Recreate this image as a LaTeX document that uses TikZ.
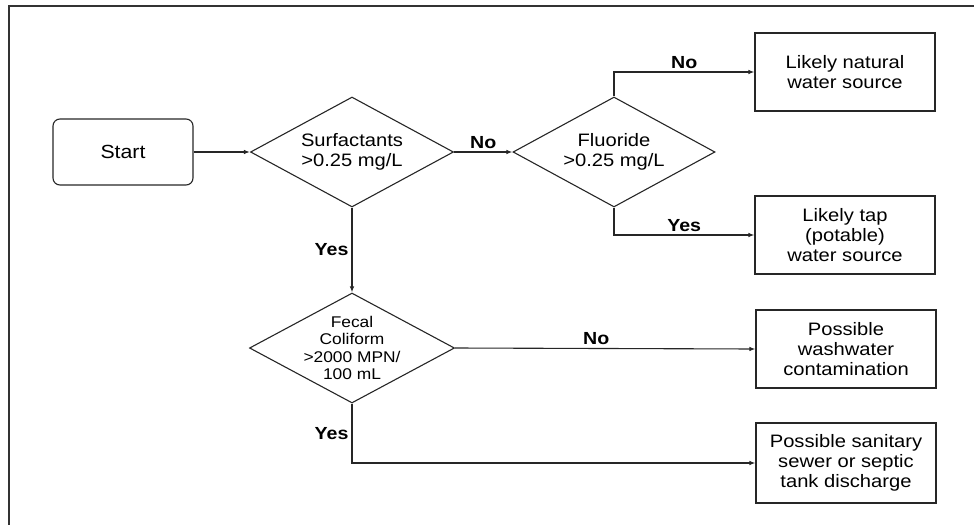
\documentclass[tikz,border=0pt]{standalone}
\usepackage{fontspec}
\setmainfont[FakeStretch=1.12]{Liberation Sans}
\usetikzlibrary{shapes.geometric,arrows.meta}

\tikzset{
    flowline/.style={draw=black!85, line width=1.1pt},
    flowarrow/.style={flowline, -{Latex[length=6pt,width=4.5pt]}},
    startbox/.style={draw=black!85, line width=1.1pt, rounded corners=7pt,
        minimum width=140pt, minimum height=66pt, inner sep=0pt},
    decision/.style={draw=black!85, line width=1.1pt, diamond, aspect=1.85,
        inner sep=-6pt, minimum width=203pt, minimum height=110pt, align=center,
        font=\fontsize{18}{20}\selectfont},
    resultbox/.style={draw=black!85, line width=1.1pt, minimum width=180pt,
        minimum height=78pt, inner sep=0pt, align=center,
        font=\fontsize{18}{20}\selectfont},
    answer/.style={font=\fontsize{17.5}{19}\selectfont\bfseries, inner sep=3pt}
}

\begin{document}
\begin{tikzpicture}[x=1pt, y=-1pt, font=\fontsize{18}{20}\selectfont]

        \useasboundingbox (0,0) rectangle (974,525);

        % Frame
        \draw[black!80, line width=2pt] (974,6) -- (9,6) -- (9,525);

        % Start and first test
        \node[startbox, font=\fontsize{19}{21}\selectfont] (start) at (123,152) {Start};
        \node[decision] (surf) at (352,152) {Surfactants\\>0.25 mg/L};

        % Fluoride test and its outcomes
        \node[decision, minimum width=202pt] (fluor) at (614,152) {Fluoride\\>0.25 mg/L};
        \node[resultbox] (natural) at (845,72) {Likely natural\\water source};
        \node[resultbox] (tap) at (845,235) {Likely tap\\(potable)\\water source};

        % Fecal coliform test and its outcomes
        \node[decision, minimum width=205pt, inner sep=-12pt,
              font=\fontsize{15.5}{17.5}\selectfont]
            (fecal) at (352,348) {Fecal\\Coliform\\>2000 MPN/\\100 mL};
        \node[resultbox] (wash) at (846,349) {Possible\\washwater\\contamination};
        \node[resultbox, minimum height=80pt] (sanit) at (846,463)
            {Possible sanitary\\sewer or septic\\tank discharge};

        % Connectors
        \draw[flowarrow] (start) -- (surf);
        \draw[flowarrow] (surf) -- node[answer, above] {No} (fluor);
        \draw[flowarrow] (fluor.north) |- node[answer, above, pos=0.75] {No} (natural.west);
        \draw[flowarrow] (fluor.south) |- node[answer, above, pos=0.75] {Yes} (tap.west);
        \draw[flowarrow] (surf.south) -- node[answer, left] {Yes} (fecal.north);
        \draw[flowarrow] (fecal.east) -- node[answer, above, pos=0.47] {No} (wash.west);
        \draw[flowarrow] (fecal.south) |- node[answer, left, pos=0.25] {Yes} (sanit.west);

    \end{tikzpicture}
\end{document}
